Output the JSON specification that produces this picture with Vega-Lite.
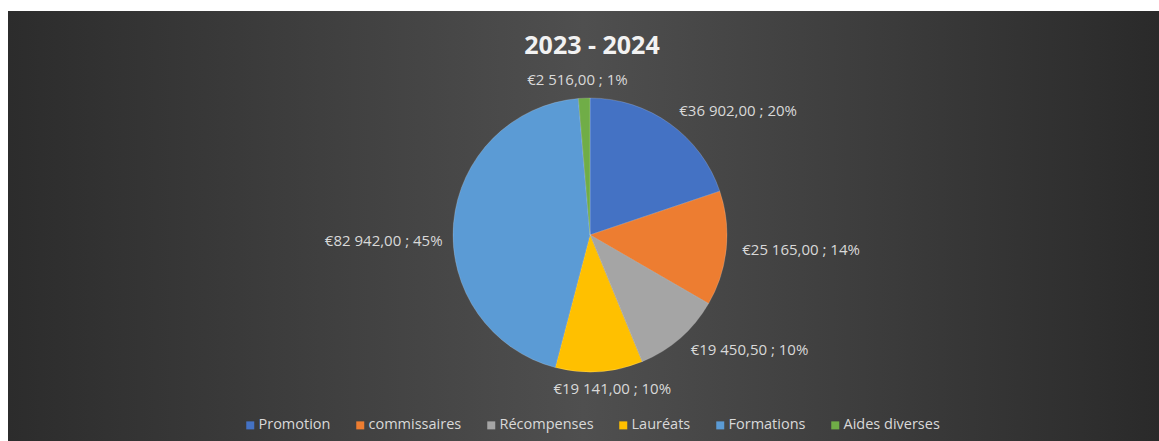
{
  "$schema": "https://vega.github.io/schema/vega-lite/v6.json",
  "autosize": "none",
  "width": 1151,
  "height": 430,
  "padding": {"left": 8, "top": 11, "right": 0, "bottom": 0},
  "background": "white",
  "title": {
    "text": "2023 - 2024",
    "orient": "top",
    "anchor": "middle",
    "frame": "group",
    "baseline": "alphabetic",
    "offset": -68,
    "dx": 8.5,
    "font": "Open Sans",
    "fontSize": 25,
    "fontWeight": "bold",
    "color": "#f2f2f2"
  },
  "config": {
    "view": {"stroke": null},
    "legend": {
      "labelFont": "Open Sans",
      "labelFontSize": 14.5,
      "labelColor": "#d9d9d9",
      "symbolType": "square",
      "symbolSize": 64,
      "symbolStrokeWidth": 0,
      "labelOffset": 1,
      "columnPadding": 22,
      "padding": 0
    }
  },
  "data": {
    "values": [
      {"cat": "Promotion", "value": 36902, "idx": 1, "label": "€36 902,00 ; 20%"},
      {"cat": "commissaires", "value": 25165, "idx": 2, "label": "€25 165,00 ; 14%"},
      {"cat": "Récompenses", "value": 19450.5, "idx": 3, "label": "€19 450,50 ; 10%"},
      {"cat": "Lauréats", "value": 19141, "idx": 4, "label": "€19 141,00 ; 10%"},
      {"cat": "Formations", "value": 82942, "idx": 5, "label": "€82 942,00 ; 45%"},
      {"cat": "Aides diverses", "value": 2516, "idx": 6, "label": "€2 516,00 ; 1%"}
    ]
  },
  "transform": [
    {"stack": "value", "groupby": [], "sort": [{"field": "idx", "order": "ascending"}], "offset": "normalize", "as": ["s0", "s1"]},
    {"calculate": "(datum.s0 + datum.s1) / 2", "as": "mid"}
  ],
  "layer": [
    {
      "data": {"values": [{"bg": 1}]},
      "mark": {
        "type": "rect",
        "color": {
          "gradient": "linear",
          "x1": 0, "y1": 0, "x2": 1, "y2": 0,
          "stops": [
            {"offset": 0, "color": "#2c2c2c"},
            {"offset": 0.5, "color": "#4f4f4f"},
            {"offset": 1, "color": "#2a2a2a"}
          ]
        }
      },
      "encoding": {}
    },
    {
      "mark": {"type": "arc", "radius": 137, "xOffset": 6.5, "yOffset": 9, "stroke": "#ffffff", "strokeWidth": 0.5, "strokeOpacity": 0.35},
      "encoding": {
        "theta": {"field": "s0", "type": "quantitative", "scale": {"domain": [0, 1]}},
        "theta2": {"field": "s1"},
        "color": {
          "field": "cat",
          "type": "nominal",
          "scale": {
            "domain": ["Promotion", "commissaires", "Récompenses", "Lauréats", "Formations", "Aides diverses"],
            "range": ["#4472C4", "#ED7D31", "#A5A5A5", "#FFC000", "#5B9BD5", "#70AD47"]
          },
          "legend": {
            "title": null,
            "orient": "none",
            "direction": "horizontal",
            "columns": 6,
            "legendX": 235,
            "legendY": 407
          }
        }
      }
    },
    {
      "transform": [{"filter": {"field": "cat", "oneOf": ["Promotion", "commissaires", "Récompenses"]}}],
      "mark": {"type": "text", "radius": 153, "xOffset": 6.5, "yOffset": 9, "align": "left", "baseline": "middle", "font": "Open Sans", "fontSize": 15, "color": "#d9d9d9"},
      "encoding": {
        "theta": {"field": "mid", "type": "quantitative", "scale": {"domain": [0, 1]}},
        "text": {"field": "label"}
      }
    },
    {
      "transform": [{"filter": {"field": "cat", "equal": "Lauréats"}}],
      "mark": {"type": "text", "radius": 154, "xOffset": 6.5, "yOffset": 9, "dx": 12, "align": "center", "baseline": "middle", "font": "Open Sans", "fontSize": 15, "color": "#d9d9d9"},
      "encoding": {
        "theta": {"field": "mid", "type": "quantitative", "scale": {"domain": [0, 1]}},
        "text": {"field": "label"}
      }
    },
    {
      "transform": [{"filter": {"field": "cat", "equal": "Formations"}}],
      "mark": {"type": "text", "radius": 148, "xOffset": 6.5, "yOffset": 9, "dy": 19, "align": "right", "baseline": "middle", "font": "Open Sans", "fontSize": 15, "color": "#d9d9d9"},
      "encoding": {
        "theta": {"field": "mid", "type": "quantitative", "scale": {"domain": [0, 1]}},
        "text": {"field": "label"}
      }
    },
    {
      "transform": [{"filter": {"field": "cat", "equal": "Aides diverses"}}],
      "mark": {"type": "text", "radius": 155, "xOffset": 6.5, "yOffset": 9, "dx": -6, "align": "center", "baseline": "middle", "font": "Open Sans", "fontSize": 15, "color": "#d9d9d9"},
      "encoding": {
        "theta": {"field": "mid", "type": "quantitative", "scale": {"domain": [0, 1]}},
        "text": {"field": "label"}
      }
    }
  ]
}
